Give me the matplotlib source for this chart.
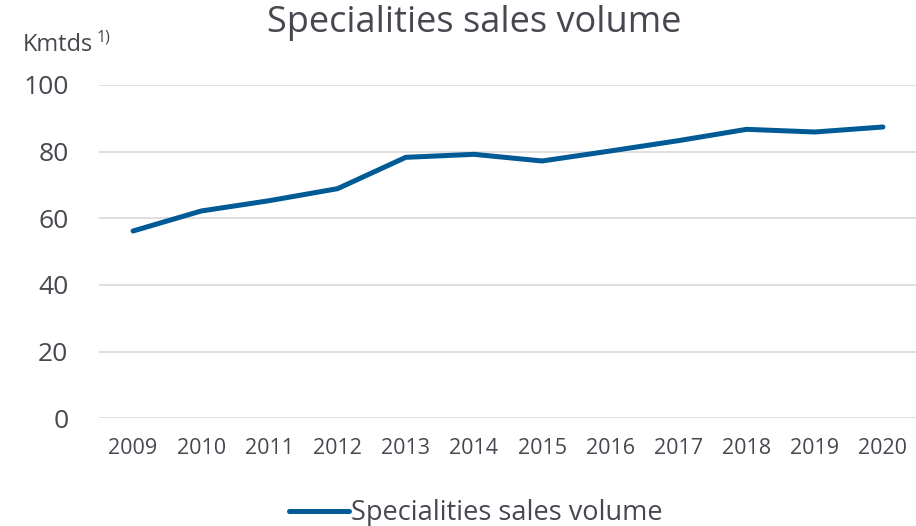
import numpy as np
import matplotlib.pyplot as plt

# data
years = ['2009', '2010', '2011', '2012', '2013', '2014',
         '2015', '2016', '2017', '2018', '2019', '2020']
volume = [56.2, 62.2, 65.3, 68.9, 78.3, 79.2, 77.2, 80.2, 83.3, 86.7, 85.9, 87.4]
yticks = [0, 20, 40, 60, 80, 100]

txt = '#4a4650'
blue = '#005a96'
plt.rcParams['font.family'] = ['Open Sans', 'DejaVu Sans']

fig = plt.figure(figsize=(9.16, 5.26), dpi=100)
ax = fig.add_axes([99 / 916, 1 - 418.3 / 526, 818 / 916, (418.3 - 85) / 526])

x = np.arange(len(years))
ax.plot(x, volume, color=blue, lw=3.6, solid_capstyle='round',
        solid_joinstyle='round', label='Specialities sales volume')

ax.set_xlim(-0.5, len(years) - 0.5)
ax.set_ylim(0, 100)
ax.set_yticks(yticks)
ax.set_xticks(x)
ax.set_xticklabels(years)
ax.grid(axis='y', color='#d9d9d9', lw=1.2)
ax.set_axisbelow(True)
for s in ax.spines.values():
    s.set_visible(False)
ax.tick_params(axis='both', length=0, colors=txt)
ax.tick_params(axis='y', labelsize=19, pad=22)
ax.tick_params(axis='x', labelsize=15.5, pad=14)

fig.text(474 / 916, 1 - 23 / 526, 'Specialities sales volume', ha='center', va='center',
         fontsize=26, color=txt)
fig.text(23 / 916, 1 - 45 / 526, 'Kmtds', ha='left', va='center',
         fontsize=17, color=txt)
fig.text(97 / 916, 1 - 38 / 526, '1)', ha='left', va='center',
         fontsize=11.5, color=txt)

leg = fig.legend(loc='center', bbox_to_anchor=(476 / 916, 1 - 513 / 526), frameon=False,
                 fontsize=19.5, handlelength=2.2, handletextpad=0.1)
for t in leg.get_texts():
    t.set_color(txt)

fig.savefig('out.png', dpi=100)
